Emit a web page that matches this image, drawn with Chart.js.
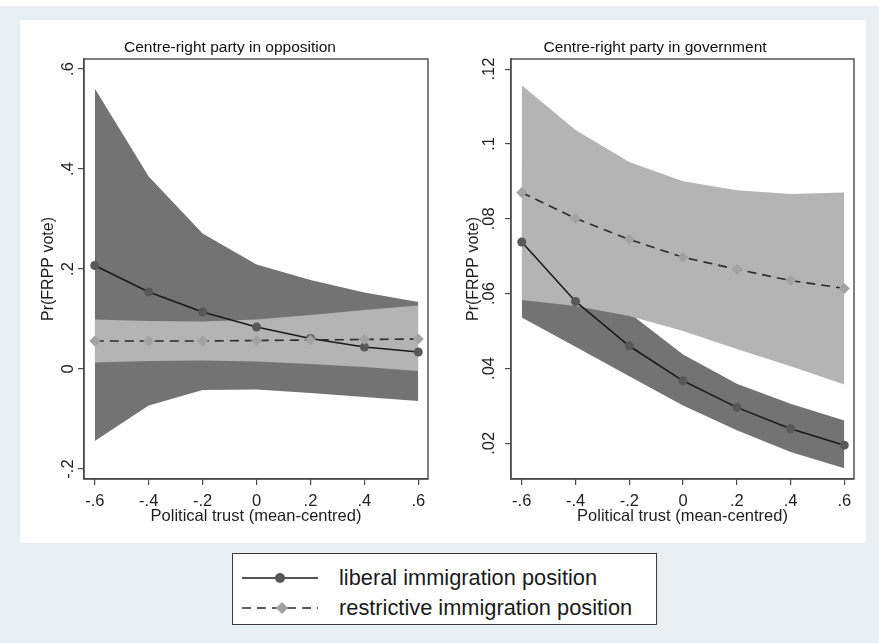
<!DOCTYPE html>
<html>
<head>
<meta charset="utf-8">
<script src="https://cdn.jsdelivr.net/npm/chart.js@4.4.0/dist/chart.umd.min.js"></script>
<style>
  html, body { margin: 0; padding: 0; background: #ffffff; }
  #page { position: absolute; left: 0; top: 6px; width: 879px; height: 637px; background: #e8eff2; }
  #panel { position: absolute; left: 20px; top: 14px; width: 846px; height: 523px; background: #ffffff; }
  .plot { position: absolute; top: 0; }
  #legend { position: absolute; left: 232px; top: 547px; width: 423px; height: 70px; background: #ffffff;
            border: 1px solid #3a3a3a; font-family: "Liberation Sans", Arial, sans-serif; font-size: 21.8px; color: #1a1a1a; }
  .row { position: absolute; left: 8px; height: 30px; display: flex; align-items: center; white-space: nowrap; }
  .row svg { margin-right: 20px; }
</style>
</head>
<body>
<div id="page">
  <div id="panel">
    <canvas id="opp" class="plot" style="left:0px" width="420" height="523"></canvas>
    <canvas id="gov" class="plot" style="left:420px" width="430" height="523"></canvas>
  </div>
  <div id="legend">
    <div class="row" style="top:9px">
      <svg width="78" height="16" viewBox="0 0 78 16">
        <line x1="1" y1="8" x2="77" y2="8" stroke="#1a1a1a" stroke-width="1.6"/>
        <circle cx="39" cy="8" r="5" fill="#585858"/>
      </svg>
      <span>liberal immigration position</span>
    </div>
    <div class="row" style="top:39px">
      <svg width="78" height="16" viewBox="0 0 78 16">
        <line x1="1" y1="8" x2="77" y2="8" stroke="#2b2b2b" stroke-width="1.6" stroke-dasharray="9 6"/>
        <polygon points="41,2 47,8 41,14 35,8" fill="#a2a2a2"/>
      </svg>
      <span>restrictive immigration position</span>
    </div>
  </div>
</div>
<script>
// Political trust values where predictions were computed
const trust = [-0.6, -0.4, -0.2, 0, 0.2, 0.4, 0.6];
const trustTicks = [-0.6, -0.4, -0.2, 0, 0.2, 0.4, 0.6];
const trustTickLabels = ['-.6', '-.4', '-.2', '0', '.2', '.4', '.6'];

// Centre-right party in opposition
const oppTicks = [-0.2, 0, 0.2, 0.4, 0.6];
const oppTickLabels = ['-.2', '0', '.2', '.4', '.6'];
const oppLiberal = [0.207, 0.154, 0.114, 0.084, 0.061, 0.044, 0.034];
const oppLiberalLow = [-0.144, -0.073, -0.042, -0.041, -0.048, -0.056, -0.064];
const oppLiberalHigh = [0.561, 0.385, 0.271, 0.209, 0.178, 0.153, 0.134];
const oppRestrictive = [0.056, 0.056, 0.056, 0.057, 0.058, 0.059, 0.060];
const oppRestrictiveLow = [0.013, 0.016, 0.017, 0.015, 0.010, 0.004, -0.004];
const oppRestrictiveHigh = [0.099, 0.096, 0.095, 0.099, 0.108, 0.118, 0.127];

// Centre-right party in government
const govTicks = [0.02, 0.04, 0.06, 0.08, 0.1, 0.12];
const govTickLabels = ['.02', '.04', '.06', '.08', '.1', '.12'];
const govLiberal = [0.0738, 0.0579, 0.0460, 0.0367, 0.0296, 0.0239, 0.0195];
const govLiberalLow = [0.0536, 0.0458, 0.0379, 0.0301, 0.0235, 0.0177, 0.0133];
const govLiberalHigh = [0.0940, 0.0700, 0.0548, 0.0437, 0.0359, 0.0306, 0.0261];
const govRestrictive = [0.0870, 0.0801, 0.0745, 0.0697, 0.0665, 0.0635, 0.0614];
const govRestrictiveLow = [0.0583, 0.0567, 0.0540, 0.0500, 0.0452, 0.0406, 0.0357];
const govRestrictiveHigh = [0.1157, 0.1037, 0.0952, 0.0900, 0.0876, 0.0866, 0.0870];

Chart.defaults.font.family = '"Liberation Sans", Arial, sans-serif';
Chart.defaults.color = '#1e1e1e';

const DARK_BAND = '#737373';
const LIGHT_BAND = '#b4b4b4';
const AXIS = '#4a4a4a';

const pts = arr => trust.map((x, i) => ({ x, y: arr[i] }));

// Box round the plot region
const framePlugin = {
  id: 'frame',
  afterDatasetsDraw(chart) {
    const { ctx, chartArea: a } = chart;
    ctx.save();
    ctx.strokeStyle = AXIS;
    ctx.lineWidth = 1.4;
    ctx.strokeRect(a.left, a.top, a.right - a.left, a.bottom - a.top);
    ctx.restore();
  }
};

function band(data, color, fill) {
  return {
    data: pts(data), borderWidth: 0, borderColor: color, backgroundColor: color,
    pointRadius: 0, fill: fill, tension: 0
  };
}

function makePanel(id, p) {
  const datasets = [
    { // restrictive estimate
      data: pts(p.restrictive), borderColor: '#2b2b2b', borderWidth: 1.6, borderDash: [9, 6],
      pointStyle: 'rectRot', pointRadius: 5.5, pointBackgroundColor: '#a2a2a2', pointBorderWidth: 0,
      fill: false, tension: 0
    },
    { // liberal estimate
      data: pts(p.liberal), borderColor: '#1a1a1a', borderWidth: 1.6,
      pointStyle: 'circle', pointRadius: 4.5, pointBackgroundColor: '#585858', pointBorderWidth: 0,
      fill: false, tension: 0
    },
    band(p.restrictiveHigh, LIGHT_BAND, '+1'),
    band(p.restrictiveLow, LIGHT_BAND, false),
    band(p.liberalHigh, DARK_BAND, '+1'),
    band(p.liberalLow, DARK_BAND, false)
  ];

  return new Chart(document.getElementById(id), {
    type: 'line',
    data: { datasets },
    plugins: [framePlugin],
    options: {
      responsive: false,
      animation: false,
      events: [],
      layout: { padding: 0 },
      plugins: {
        legend: { display: false },
        tooltip: { enabled: false },
        title: {
          display: true, text: p.title, color: '#111',
          font: { size: 15.5, weight: 'normal' },
          padding: { top: 18.5, bottom: 1.9 }
        }
      },
      scales: {
        x: {
          type: 'linear', min: -0.64, max: 0.636,
          afterBuildTicks: s => { s.ticks = trustTicks.map(v => ({ value: v })); },
          afterFit: s => { s.height = 64; },
          ticks: {
            callback: (v, i) => trustTickLabels[i],
            font: { size: 16.5 }, color: '#1e1e1e', padding: 7, maxRotation: 0, autoSkip: false
          },
          grid: { display: true, drawOnChartArea: false, tickLength: 6, color: AXIS, lineWidth: 1.2 },
          border: { display: true, color: AXIS, width: 1.4 },
          title: { display: true, text: 'Political trust (mean-centred)', font: { size: 16.5 }, color: '#1e1e1e', padding: { top: 0, bottom: 17 } }
        },
        y: {
          type: 'linear', min: p.yMin, max: p.yMax,
          afterBuildTicks: s => { s.ticks = p.yTicks.map(v => ({ value: v })); },
          afterFit: s => { s.width = p.yWidth; },
          ticks: {
            callback: (v, i) => p.yTickLabels[i],
            font: { size: 16.5 }, color: '#1e1e1e', padding: p.tickPad,
            minRotation: 90, maxRotation: 90, crossAlign: 'center', autoSkip: false
          },
          grid: { display: true, drawOnChartArea: false, tickLength: 6, color: AXIS, lineWidth: 1.2 },
          border: { display: true, color: AXIS, width: 1.4 },
          title: { display: true, text: 'Pr(FRPP vote)', font: { size: 16 }, color: '#1e1e1e', padding: { top: p.titlePad, bottom: 0 } }
        },
        // empty margin on the right of the plot region
        yMargin: {
          type: 'linear', position: 'right', display: true,
          afterFit: s => { s.width = p.rightMargin; },
          ticks: { display: false },
          grid: { display: false },
          border: { display: false }
        }
      }
    }
  });
}

makePanel('opp', {
  title: 'Centre-right party in opposition',
  liberal: oppLiberal, liberalLow: oppLiberalLow, liberalHigh: oppLiberalHigh,
  restrictive: oppRestrictive, restrictiveLow: oppRestrictiveLow, restrictiveHigh: oppRestrictiveHigh,
  yMin: -0.22, yMax: 0.62, yTicks: oppTicks, yTickLabels: oppTickLabels,
  yWidth: 64, rightMargin: 12, tickPad: 0, titlePad: 19
});

makePanel('gov', {
  title: 'Centre-right party in government',
  liberal: govLiberal, liberalLow: govLiberalLow, liberalHigh: govLiberalHigh,
  restrictive: govRestrictive, restrictiveLow: govRestrictiveLow, restrictiveHigh: govRestrictiveHigh,
  yMin: 0.01046, yMax: 0.1227, yTicks: govTicks, yTickLabels: govTickLabels,
  yWidth: 71, rightMargin: 16, tickPad: 4, titlePad: 24
});
</script>
</body>
</html>
